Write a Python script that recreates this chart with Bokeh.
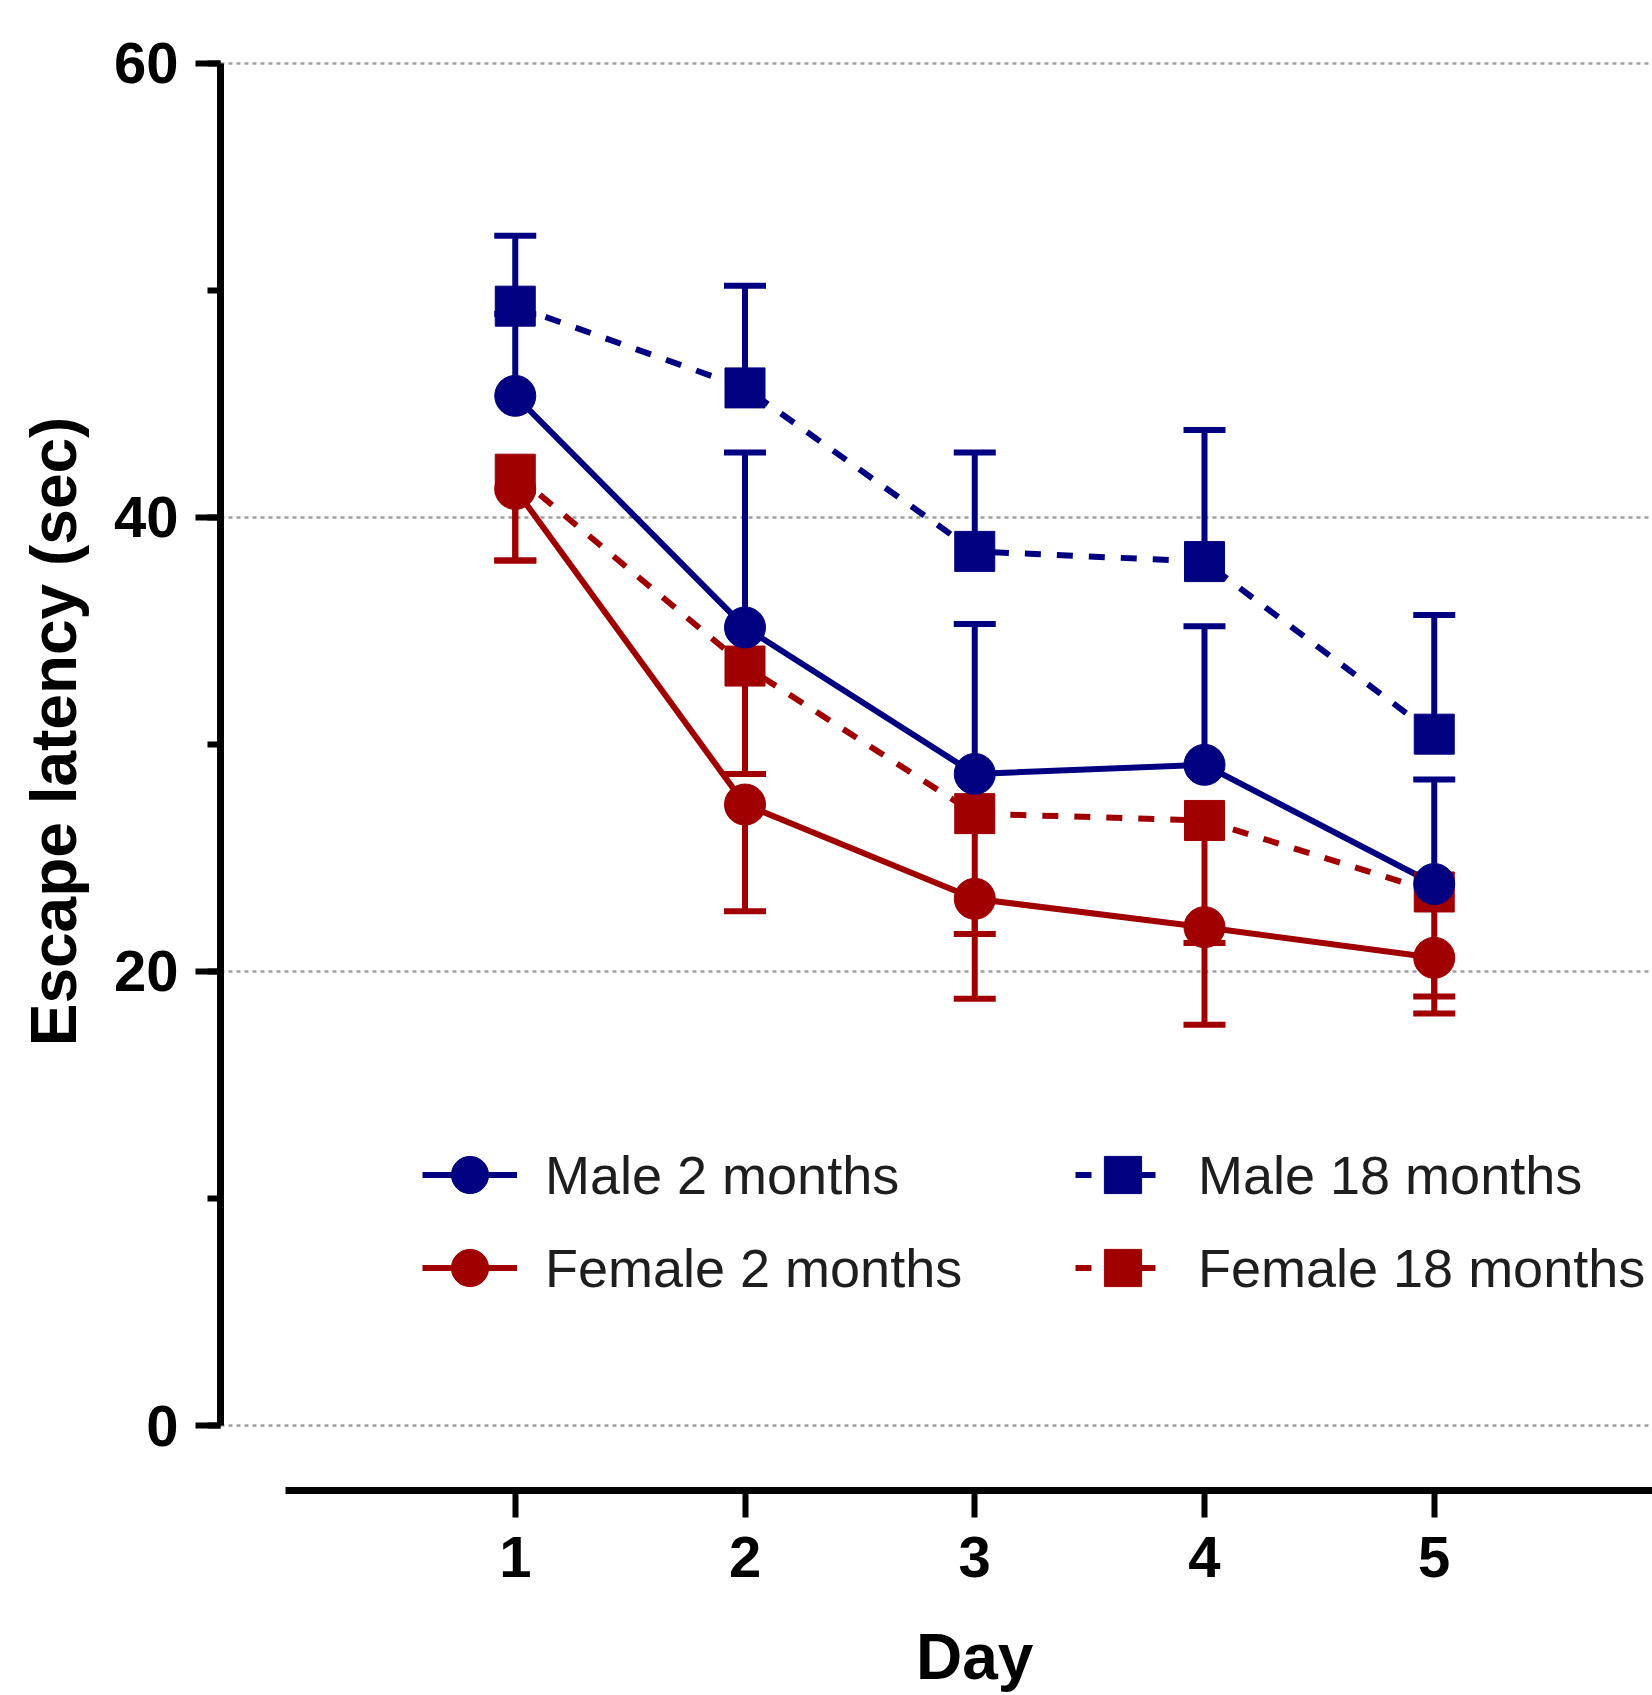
from bokeh.plotting import figure
from bokeh.models import (Range1d, SingleIntervalTicker, FixedTicker, Legend, LegendItem,
                          LinearAxis)
from bokeh.embed import file_html
from bokeh.resources import INLINE

# ---- data ----
days = [1, 2, 3, 4, 5]
day_labels = ["1", "2", "3", "4", "5"]

male_2m = [45.35, 35.15, 28.7, 29.1, 23.85]
male_2m_sem = [3.6, 7.7, 6.6, 6.1, 4.6]          # drawn above

male_18m = [49.3, 45.7, 38.5, 38.05, 30.45]
male_18m_sem = [3.1, 4.5, 4.35, 5.8, 5.25]      # drawn above

female_2m = [41.25, 27.35, 23.2, 21.95, 20.6]
female_2m_sem = [3.15, 4.7, 4.4, 4.3, 2.45]      # drawn below

female_18m = [41.9, 33.45, 26.95, 26.65, 23.5]
female_18m_sem = [3.8, 4.75, 5.3, 5.4, 4.6]      # drawn below

series_labels = ["Male 2 months", "Male 18 months", "Female 2 months", "Female 18 months"]
x_title = "Day"
y_title = "Escape latency (sec)"

BLUE = "#000080"
RED = "#a00000"
FONT = "Liberation Sans"

p = figure(width=1652, height=1695, output_backend="svg", toolbar_location=None,
           x_range=Range1d(-0.283, 5.95), y_range=Range1d(-2.86, 61.0),
           min_border_left=220, min_border_right=0, min_border_top=40, min_border_bottom=205)
p.title.visible = False
p.outline_line_color = None
p.background_fill_color = "white"
p.border_fill_color = "white"

xax = p.xaxis[0]
yax = p.yaxis[0]

# axes
yax.ticker = SingleIntervalTicker(interval=20, num_minor_ticks=2)
yax.bounds = (0, 60)
xax.ticker = FixedTicker(ticks=days)
xax.major_label_overrides = {d: s for d, s in zip(days, day_labels)}
xax.bounds = (0, 6)

for ax in (xax, yax):
    ax.axis_line_width = 7
    ax.axis_line_color = "black"
    ax.major_tick_line_width = 6
    ax.major_tick_line_color = "black"
    ax.major_tick_in = 0
    ax.minor_tick_in = 0
    ax.major_label_text_font = FONT
    ax.major_label_text_font_style = "bold"
    ax.major_label_text_font_size = "58px"
    ax.major_label_text_color = "black"

yax.major_tick_out = 25
yax.minor_tick_out = 13
yax.minor_tick_line_width = 6
yax.minor_tick_line_color = "black"
yax.major_label_standoff = 17

xax.major_tick_out = 27
xax.minor_tick_line_color = None
xax.major_label_standoff = 19

p.xgrid.visible = False
p.ygrid.grid_line_color = "#a0a0a0"
p.ygrid.grid_line_dash = "4 4"
p.ygrid.grid_line_width = 2.5

# axis titles: placed as in the reference (centred on day 3 and slightly above mid-height)
def title_axis(side, pos, text, standoff, orientation):
    ax = LinearAxis(ticker=FixedTicker(ticks=[pos]),
                    major_label_overrides={pos: text},
                    axis_line_color=None, major_tick_line_color=None, minor_tick_line_color=None,
                    major_tick_out=0, major_tick_in=0,
                    major_label_standoff=standoff, major_label_orientation=orientation,
                    major_label_text_font=FONT, major_label_text_font_style="bold",
                    major_label_text_font_size="64px", major_label_text_color="black")
    p.add_layout(ax, side)

title_axis("below", 3, x_title, 41, "horizontal")
title_axis("left", 30.57, y_title, 20, "vertical")

# ---- lines ----
LW = 6
l_m2 = p.line(days, male_2m, line_color=BLUE, line_width=LW)
l_m18 = p.line(days, male_18m, line_color=BLUE, line_width=LW, line_dash="16 16")
l_f2 = p.line(days, female_2m, line_color=RED, line_width=LW)
l_f18 = p.line(days, female_18m, line_color=RED, line_width=LW, line_dash="16 16")

# ---- error bars (one-sided, as in the reference) ----
def err(vals, sems, up, color):
    ends = [v + s if up else v - s for v, s in zip(vals, sems)]
    p.segment(x0=days, y0=vals, x1=days, y1=ends, line_color=color, line_width=6)
    p.scatter(days, ends, marker="dash", size=42, line_color=color, line_width=6)

err(female_18m, female_18m_sem, False, RED)
err(female_2m, female_2m_sem, False, RED)
err(male_18m, male_18m_sem, True, BLUE)
err(male_2m, male_2m_sem, True, BLUE)

# ---- markers ----
s_f18 = p.scatter(days, female_18m, marker="square", size=40, fill_color=RED, line_color=RED, line_width=1)
s_f2 = p.scatter(days, female_2m, marker="circle", size=41, fill_color=RED, line_color=RED, line_width=1)
s_m18 = p.scatter(days, male_18m, marker="square", size=40, fill_color=BLUE, line_color=BLUE, line_width=1)
s_m2 = p.scatter(days, male_2m, marker="circle", size=41, fill_color=BLUE, line_color=BLUE, line_width=1)

# ---- legends ----
def make_legend(items, loc, standoff):
    lg = Legend(items=items, location=loc, orientation="vertical",
                glyph_width=95, glyph_height=93, label_height=93,
                label_standoff=standoff, spacing=0, padding=0, margin=0,
                border_line_color=None, background_fill_alpha=0,
                label_text_font=FONT, label_text_font_size="54px",
                label_text_color="#1e1e1e")
    p.add_layout(lg)

make_legend([LegendItem(label=series_labels[0], renderers=[l_m2, s_m2]),
             LegendItem(label=series_labels[2], renderers=[l_f2, s_f2])], (202, 176), 28)
make_legend([LegendItem(label=series_labels[1], renderers=[l_m18, s_m18]),
             LegendItem(label=series_labels[3], renderers=[l_f18, s_f18])], (855, 176), 28)

open("out.html", "w").write(file_html(p, INLINE))
